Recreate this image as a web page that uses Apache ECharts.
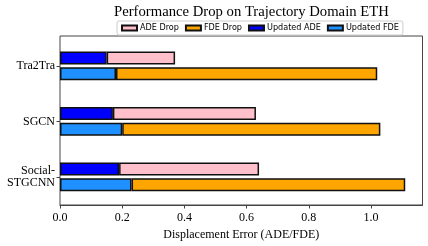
<!DOCTYPE html>
<html><head><meta charset="utf-8">
<script src="https://cdn.jsdelivr.net/npm/echarts@6/dist/echarts.min.js"></script>
<style>html,body{margin:0;padding:0;background:#fff}#c{width:428px;height:246px}</style>
</head><body><div id="c"></div>
<script>
const categories = ['Tra2Tra', 'SGCN', 'Social-\nSTGCNN'];
const updatedADE = [0.15, 0.17, 0.19];
const adeDrop = [0.22, 0.46, 0.45];
const updatedFDE = [0.18, 0.20, 0.23];
const fdeDrop = [0.84, 0.83, 0.88];
const xTicks = [0, 0.2, 0.4, 0.6, 0.8, 1.0];
const xMax = 1.1655;

const serif = 'Liberation Serif';
const chart = echarts.init(document.getElementById('c'), null, {renderer: 'canvas'});
const border = {borderColor: '#111', borderWidth: 1.5};
const barCommon = {type: 'bar', xAxisIndex: 1, yAxisIndex: 1, barWidth: 13, barGap: '22%', animation: false};
chart.setOption({
  animation: false,
  title: {text: 'Performance Drop on Trajectory Domain ETH', left: 109, top: 0,
    textStyle: {fontFamily: serif, fontSize: 14.7, fontWeight: 'normal', color: '#000'}},
  legend: {data: ['ADE Drop', 'FDE Drop', 'Updated ADE', 'Updated FDE'], left: 117, top: 21,
    icon: 'rect', itemWidth: 15, itemHeight: 5, itemGap: 6, padding: [3, 4],
    borderColor: '#ccc', borderWidth: 1, borderRadius: 2, backgroundColor: '#fff',
    textStyle: {fontFamily: 'DejaVu Sans', fontSize: 8.1, color: '#000', padding: [0, 0, 0, -2]}},
  grid: [
    {left: 60, right: 5.5, top: 36, height: 176, show: true, borderColor: '#444', borderWidth: 1, backgroundColor: 'transparent'},
    {left: 60, right: 5.5, top: 38.1, height: 166.6}
  ],
  xAxis: [
    {type: 'value', gridIndex: 0, min: 0, max: xMax, interval: 0.2,
      name: 'Displacement Error (ADE/FDE)', nameLocation: 'middle', nameGap: 24,
      nameTextStyle: {fontFamily: serif, fontSize: 12, color: '#000'},
      axisLine: {show: true, lineStyle: {color: '#444', width: 1}},
      axisTick: {show: true, length: 3.5, lineStyle: {color: '#444'}},
      splitLine: {show: false},
      axisLabel: {fontFamily: serif, fontSize: 12, color: '#000', margin: 7, showMaxLabel: false,
        formatter: v => xTicks.some(t => Math.abs(t - v) < 1e-6) ? v.toFixed(1) : ''}},
    {type: 'value', gridIndex: 1, min: 0, max: xMax, show: false}
  ],
  yAxis: [
    {type: 'value', gridIndex: 0, min: 0, max: 1, show: false},
    {type: 'category', gridIndex: 1, data: categories, inverse: true,
      axisLine: {show: false},
      axisTick: {show: true, alignWithLabel: true, length: 3.5, lineStyle: {color: '#444'}},
      axisLabel: {fontFamily: serif, fontSize: 12, color: '#000', margin: 5, lineHeight: 12.5, align: 'right',
        padding: [4, 0, 0, 0]}}
  ],
  series: [
    Object.assign({}, barCommon, {name: 'Updated ADE', stack: 'ade', data: updatedADE, itemStyle: Object.assign({color: '#0000ff'}, border)}),
    Object.assign({}, barCommon, {name: 'ADE Drop', stack: 'ade', data: adeDrop, itemStyle: Object.assign({color: '#ffc0cb'}, border)}),
    Object.assign({}, barCommon, {name: 'Updated FDE', stack: 'fde', data: updatedFDE, itemStyle: Object.assign({color: '#1e90ff'}, border)}),
    Object.assign({}, barCommon, {name: 'FDE Drop', stack: 'fde', data: fdeDrop, itemStyle: Object.assign({color: '#ffa500'}, border)})
  ]
});
</script></body></html>
